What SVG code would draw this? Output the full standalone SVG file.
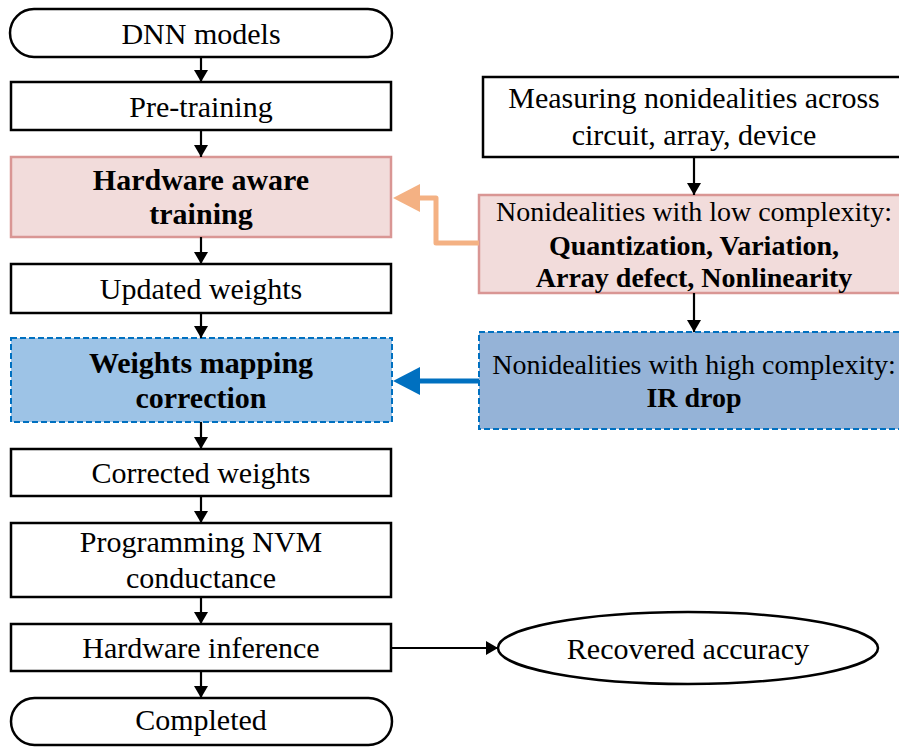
<svg xmlns="http://www.w3.org/2000/svg" width="899" height="747" viewBox="0 0 899 747">
  <defs>
    <style>
      .t text { font-size: 30px; fill: #000; text-anchor: middle; }
      .t text.s { font-size: 28px; }
      .b { font-weight: bold; }
      .plain { fill: #fff; stroke: #000; stroke-width: 2.5; }
      .pink { fill: #F2DCDB; stroke: #D99694; stroke-width: 2.5; }
      .blue1 { fill: #9DC3E6; stroke: #0070C0; stroke-width: 2; stroke-dasharray: 6 3; }
      .blue2 { fill: #95B3D7; stroke: #0070C0; stroke-width: 2; stroke-dasharray: 6 3; }
      .flow { stroke: #000; stroke-width: 2.2; fill: none; }
    </style>
    <marker id="arr" markerWidth="12" markerHeight="14" refX="12" refY="7" orient="auto" markerUnits="userSpaceOnUse" viewBox="0 0 12 14">
      <path d="M0,0 L12,7 L0,14 Z" fill="#000"/>
    </marker>
  </defs>

  <g class="t" font-family="'Liberation Serif', 'Times New Roman', Times, serif">
  <!-- left column -->
  <g id="dnn-models">
    <rect class="plain" x="10" y="9" width="382" height="48" rx="24"/>
    <text x="201" y="44">DNN models</text>
  </g>
  <g id="pre-training">
    <rect class="plain" x="11" y="82" width="380" height="48"/>
    <text x="201" y="117">Pre-training</text>
  </g>
  <g id="hw-aware-training">
    <rect class="pink" x="11" y="157" width="380" height="80"/>
    <text class="b" x="201" y="190">Hardware aware</text>
    <text class="b" x="201" y="224">training</text>
  </g>
  <g id="updated-weights">
    <rect class="plain" x="11" y="264" width="380" height="49"/>
    <text x="201" y="299">Updated weights</text>
  </g>
  <g id="weights-mapping">
    <rect class="blue1" x="11" y="338" width="381" height="84"/>
    <text class="b" x="201" y="373">Weights mapping</text>
    <text class="b" x="201" y="408">correction</text>
  </g>
  <g id="corrected-weights">
    <rect class="plain" x="11" y="449" width="380" height="47"/>
    <text x="201" y="483">Corrected weights</text>
  </g>
  <g id="programming-nvm">
    <rect class="plain" x="11" y="523" width="380" height="74"/>
    <text x="201" y="552">Programming NVM</text>
    <text x="201" y="588">conductance</text>
  </g>
  <g id="hw-inference">
    <rect class="plain" x="11" y="624" width="380" height="47"/>
    <text x="201" y="658">Hardware inference</text>
  </g>
  <g id="completed">
    <rect class="plain" x="11" y="698" width="381" height="47" rx="23.5"/>
    <text x="201" y="730">Completed</text>
  </g>

  <!-- right column -->
  <g id="measuring">
    <rect class="plain" x="483" y="77" width="430" height="80"/>
    <text x="694" y="108">Measuring nonidealities across</text>
    <text x="694" y="145">circuit, array, device</text>
  </g>
  <g id="low-complexity">
    <rect class="pink" x="479" y="195" width="434" height="98"/>
    <text class="s" x="694" y="221">Nonidealities with low complexity:</text>
    <text class="s b" x="694" y="255">Quantization, Variation,</text>
    <text class="s b" x="694" y="287">Array defect, Nonlinearity</text>
  </g>
  <g id="high-complexity">
    <rect class="blue2" x="479" y="332" width="434" height="97"/>
    <text class="s" x="694" y="374">Nonidealities with high complexity:</text>
    <text class="s b" x="694" y="407">IR drop</text>
  </g>
  <g id="recovered-accuracy">
    <ellipse cx="688" cy="648" rx="190" ry="36" fill="#fff" stroke="#000" stroke-width="2.5"/>
    <text x="688" y="659">Recovered accuracy</text>
  </g>
  </g>

  <!-- connectors -->
  <g id="connectors">
    <line class="flow" x1="201" y1="57" x2="201" y2="82" marker-end="url(#arr)"/>
    <line class="flow" x1="201" y1="130" x2="201" y2="157" marker-end="url(#arr)"/>
    <line class="flow" x1="201" y1="237" x2="201" y2="264" marker-end="url(#arr)"/>
    <line class="flow" x1="201" y1="313" x2="201" y2="338" marker-end="url(#arr)"/>
    <line class="flow" x1="201" y1="422" x2="201" y2="449" marker-end="url(#arr)"/>
    <line class="flow" x1="201" y1="496" x2="201" y2="523" marker-end="url(#arr)"/>
    <line class="flow" x1="201" y1="597" x2="201" y2="624" marker-end="url(#arr)"/>
    <line class="flow" x1="201" y1="671" x2="201" y2="698" marker-end="url(#arr)"/>
    <line class="flow" x1="694" y1="157" x2="694" y2="195" marker-end="url(#arr)"/>
    <line class="flow" x1="694" y1="293" x2="694" y2="332" marker-end="url(#arr)"/>
    <line class="flow" x1="391" y1="648" x2="498" y2="648" marker-end="url(#arr)"/>

    <!-- feedback from low-complexity nonidealities -->
    <polyline points="479,243 436,243 436,198 418,198" fill="none" stroke="#F4B183" stroke-width="5" stroke-linejoin="round"/>
    <path d="M393,198 L420,184 L420,212 Z" fill="#F4B183"/>

    <!-- feedback from high-complexity nonidealities -->
    <line x1="479" y1="381" x2="418" y2="381" stroke="#0070C0" stroke-width="5"/>
    <path d="M393,381 L420,367 L420,395 Z" fill="#0070C0"/>
  </g>
</svg>
